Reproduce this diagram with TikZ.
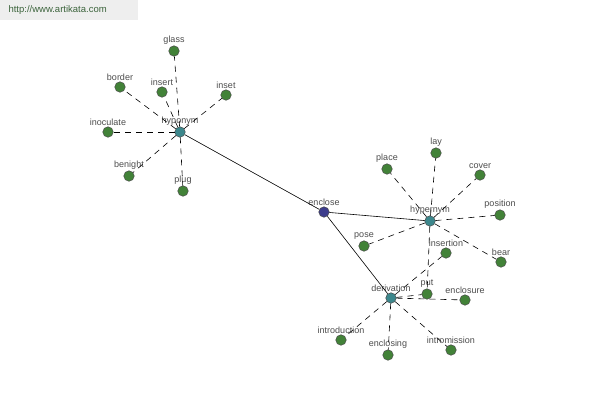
\documentclass[tikz,border=0pt]{standalone}
\usepackage{fontspec}
\setmainfont{Liberation Sans}
\definecolor{leafgreen}{RGB}{66,130,56}
\definecolor{hubteal}{RGB}{60,135,140}
\definecolor{rootblue}{RGB}{60,60,140}
\definecolor{markgray}{RGB}{238,238,238}
\definecolor{marktext}{RGB}{60,100,60}
\tikzset{
  word/.style={circle, draw=black!70, line width=0.5pt, minimum size=10.5pt, inner sep=0pt,
    label={[font=\fontsize{9}{10}\selectfont, text=black!70, inner sep=0.5pt]above:#1}},
  leaf/.style={word=#1, fill=leafgreen},
  hub/.style={word=#1, fill=hubteal},
  root/.style={word=#1, fill=rootblue},
  link/.style={dashed, dash pattern=on 6pt off 5pt, black, line width=0.6pt},
  tie/.style={black, line width=0.6pt}
}
\begin{document}
\begin{tikzpicture}[x=1pt, y=-1pt]
            \useasboundingbox (0,0) rectangle (600,400);
            % watermark
            \fill[markgray] (0,0) rectangle (138,20);
            \node[anchor=west, text=marktext, font=\fontsize{9.5}{10}\selectfont] (mark) at (5,10) {http://www.artikata.com};
            % hubs
            \node[root=enclose] (enclose) at (324,212) {};
            \node[hub=hyponym] (hyponym) at (180,132) {};
            \node[hub=hypernym] (hypernym) at (430,221) {};
            \node[hub=derivation] (derivation) at (391,298) {};
            \draw[tie] (enclose) -- (hyponym);
            \draw[tie] (enclose) -- (hypernym);
            \draw[tie] (enclose) -- (derivation);
            % hyponym leaves
            \foreach \x/\y/\n in {174/51/glass, 120/87/border, 162/92/insert, 226/95/inset,
                                  108/132/inoculate, 129/176/benight, 183/191/plug} {
                \node[leaf=\n] (\n) at (\x,\y) {};
                \draw[link] (hyponym) -- (\n);
            }
            % hypernym leaves
            \foreach \x/\y/\n in {436/153/lay, 387/169/place, 480/175/cover, 500/215/position,
                                  501/262/bear, 364/246/pose, 427/294/put} {
                \node[leaf=\n] (\n) at (\x,\y) {};
                \draw[link] (hypernym) -- (\n);
            }
            % derivation leaves
            \foreach \x/\y/\n in {446/253/insertion, 465/300/enclosure, 341/340/introduction,
                                  388/355/enclosing, 451/350/intromission} {
                \node[leaf=\n] (\n) at (\x,\y) {};
                \draw[link] (derivation) -- (\n);
            }
            \draw[link] (derivation) -- (put);
        \end{tikzpicture}
\end{document}
